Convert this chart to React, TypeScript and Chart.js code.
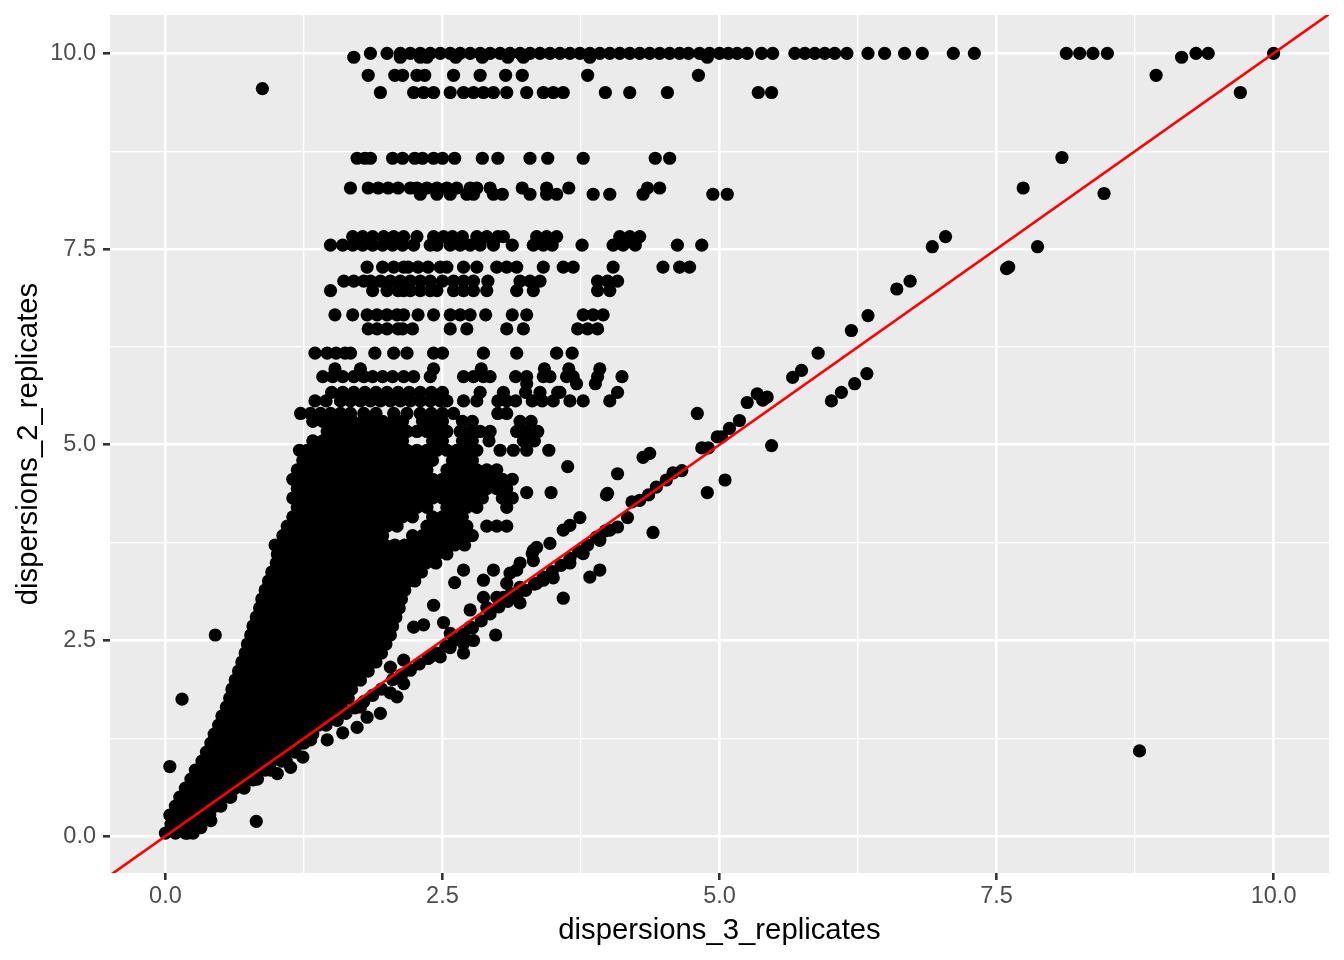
import React, { useEffect, useRef } from 'react';
import { Chart, registerables } from 'chart.js';

Chart.register(...registerables);

const X_TITLE = 'dispersions_3_replicates';
const Y_TITLE = 'dispersions_2_replicates';
const X_TICKS = [0, 1.25, 2.5, 3.75, 5, 6.25, 7.5, 8.75, 10];
const Y_TICKS = [0, 1.25, 2.5, 3.75, 5, 6.25, 7.5, 8.75, 10];
const X_LIMITS = [-0.5, 10.5];
const Y_LIMITS = [-0.47, 10.49];
const ABLINE = { slope: 1, intercept: 0 };

// Dense core of the cloud: [y, x values]
const coreRows: [number, number[]][] = [
  [0.04, [0.0, 0.09, 0.18, 0.25]],
  [0.155, [0.05, 0.14, 0.23, 0.32]],
  [0.27, [0.04, 0.13, 0.22, 0.31, 0.4]],
  [0.385, [0.09, 0.18, 0.27, 0.36, 0.45, 0.5]],
  [0.5, [0.13, 0.22, 0.31, 0.4, 0.49, 0.58]],
  [0.615, [0.18, 0.27, 0.36, 0.45, 0.54, 0.63, 0.71]],
  [0.73, [0.23, 0.32, 0.41, 0.5, 0.59, 0.68, 0.77, 0.83]],
  [0.845, [0.27, 0.36, 0.45, 0.54, 0.63, 0.72, 0.81, 0.9, 0.95]],
  [0.96, [0.33, 0.42, 0.51, 0.6, 0.69, 0.78, 0.87, 0.96, 1.05, 1.09]],
  [1.075, [0.37, 0.46, 0.55, 0.64, 0.73, 0.82, 0.91, 1.0, 1.09, 1.17]],
  [1.19, [0.41, 0.5, 0.59, 0.68, 0.77, 0.86, 0.95, 1.04, 1.13, 1.22, 1.25]],
  [1.305, [0.44, 0.53, 0.62, 0.71, 0.8, 0.89, 0.98, 1.07, 1.16, 1.25, 1.33]],
  [1.42, [0.48, 0.57, 0.66, 0.75, 0.84, 0.93, 1.02, 1.11, 1.2, 1.29, 1.38, 1.45]],
  [1.535, [0.51, 0.6, 0.69, 0.78, 0.87, 0.96, 1.05, 1.14, 1.23, 1.32, 1.41, 1.5]],
  [1.65, [0.55, 0.64, 0.73, 0.82, 0.91, 1.0, 1.09, 1.18, 1.27, 1.36, 1.45, 1.54, 1.59]],
  [1.765, [0.58, 0.67, 0.76, 0.85, 0.94, 1.03, 1.12, 1.21, 1.3, 1.39, 1.48, 1.57, 1.65]],
  [1.88, [0.6, 0.69, 0.78, 0.87, 0.96, 1.05, 1.14, 1.23, 1.32, 1.41, 1.5, 1.59, 1.68]],
  [1.995, [0.63, 0.72, 0.81, 0.9, 0.99, 1.08, 1.17, 1.26, 1.35, 1.44, 1.53, 1.62, 1.71, 1.76]],
  [2.11, [0.66, 0.75, 0.84, 0.93, 1.02, 1.11, 1.2, 1.29, 1.38, 1.47, 1.56, 1.65, 1.74, 1.83]],
  [2.225, [0.69, 0.78, 0.87, 0.96, 1.05, 1.14, 1.23, 1.32, 1.41, 1.5, 1.59, 1.68, 1.77, 1.86, 1.9]],
  [2.34, [0.72, 0.81, 0.9, 0.99, 1.08, 1.17, 1.26, 1.35, 1.44, 1.53, 1.62, 1.71, 1.8, 1.89, 1.95]],
  [2.455, [0.74, 0.83, 0.92, 1.01, 1.1, 1.19, 1.28, 1.37, 1.46, 1.55, 1.64, 1.73, 1.82, 1.91, 1.99]],
  [2.57, [0.77, 0.86, 0.95, 1.04, 1.13, 1.22, 1.31, 1.4, 1.49, 1.58, 1.67, 1.76, 1.85, 1.94, 2.03]],
  [2.685, [0.79, 0.88, 0.97, 1.06, 1.15, 1.24, 1.33, 1.42, 1.51, 1.6, 1.69, 1.78, 1.87, 1.96, 2.05]],
  [2.8, [0.82, 0.91, 1.0, 1.09, 1.18, 1.27, 1.36, 1.45, 1.54, 1.63, 1.72, 1.81, 1.9, 1.99, 2.08]],
  [2.915, [0.85, 0.94, 1.03, 1.12, 1.21, 1.3, 1.39, 1.48, 1.57, 1.66, 1.75, 1.84, 1.93, 2.02, 2.11]],
  [3.03, [0.87, 0.96, 1.05, 1.14, 1.23, 1.32, 1.41, 1.5, 1.59, 1.68, 1.77, 1.86, 1.95, 2.04, 2.13]],
  [3.145, [0.9, 0.99, 1.08, 1.17, 1.26, 1.35, 1.44, 1.53, 1.62, 1.71, 1.8, 1.89, 1.98, 2.07, 2.16]],
  [3.26, [0.93, 1.02, 1.11, 1.2, 1.29, 1.38, 1.47, 1.56, 1.65, 1.74, 1.83, 1.92, 2.01, 2.1, 2.19, 2.25]],
  [3.375, [0.96, 1.05, 1.14, 1.23, 1.32, 1.41, 1.5, 1.59, 1.68, 1.77, 1.86, 1.95, 2.04, 2.13, 2.22, 2.31]],
  [3.49, [1.0, 1.09, 1.18, 1.27, 1.36, 1.45, 1.54, 1.63, 1.72, 1.81, 1.9, 1.99, 2.08, 2.17, 2.26, 2.35, 2.44]],
  [3.605, [1.01, 1.1, 1.19, 1.28, 1.37, 1.46, 1.55, 1.64, 1.73, 1.82, 1.91, 2.0, 2.09, 2.18, 2.27, 2.36, 2.45, 2.54]],
  [3.72, [0.99, 1.08, 1.17, 1.26, 1.35, 1.44, 1.53, 1.62, 1.71, 1.8, 1.89, 1.98, 2.07, 2.16, 2.25, 2.34, 2.43, 2.52, 2.61, 2.7]],
];

// Upper, looser part of the cloud: [y, x values]
const upperRows: [number, number[]][] = [
  [3.84, [1.06, 1.15, 1.24, 1.33, 1.42, 1.51, 1.6, 1.69, 1.78, 1.87, 1.96, 2.23, 2.32, 2.41, 2.5, 2.59, 2.68, 2.77]],
  [3.96, [1.1, 1.19, 1.28, 1.37, 1.46, 1.55, 1.64, 1.73, 1.82, 1.91, 2.0, 2.09, 2.36, 2.45, 2.54, 2.63, 2.72, 2.9, 2.99, 3.08]],
  [4.08, [1.15, 1.24, 1.33, 1.42, 1.51, 1.6, 1.69, 1.78, 1.87, 1.96, 2.05, 2.14, 2.23, 2.41, 2.5, 2.59, 2.68]],
  [4.2, [1.19, 1.28, 1.37, 1.46, 1.55, 1.64, 1.73, 1.82, 1.91, 2.0, 2.09, 2.18, 2.27, 2.36, 2.54, 2.63, 2.72, 2.81, 3.08]],
  [4.32, [1.15, 1.24, 1.33, 1.42, 1.51, 1.6, 1.69, 1.78, 1.87, 1.96, 2.05, 2.14, 2.23, 2.32, 2.41, 2.5, 2.59, 2.68, 2.77, 2.86, 3.04, 3.13]],
  [4.44, [1.19, 1.28, 1.37, 1.46, 1.55, 1.64, 1.73, 1.82, 1.91, 2.0, 2.09, 2.18, 2.27, 2.36, 2.45, 2.54, 2.63, 2.72, 2.81, 2.9, 2.99, 3.08]],
  [4.56, [1.15, 1.24, 1.33, 1.42, 1.51, 1.6, 1.69, 1.78, 1.87, 1.96, 2.05, 2.14, 2.23, 2.32, 2.41, 2.5, 2.59, 2.68, 2.77, 2.86, 2.95, 3.04, 3.13]],
  [4.68, [1.19, 1.28, 1.37, 1.46, 1.55, 1.64, 1.73, 1.82, 1.91, 2.0, 2.09, 2.18, 2.27, 2.36, 2.54, 2.63, 2.72, 2.81, 2.9, 2.99]],
  [4.8, [1.24, 1.33, 1.42, 1.51, 1.6, 1.69, 1.78, 1.87, 1.96, 2.05, 2.14, 2.23, 2.32, 2.41, 2.59, 2.68, 2.77]],
  [4.93, [1.21, 1.28, 1.37, 1.46, 1.55, 1.64, 1.73, 1.82, 1.91, 2.0, 2.09, 2.18, 2.27, 2.36, 2.45, 2.54, 2.63, 2.72, 2.81, 3.02, 3.14, 3.26, 3.46]],
  [5.05, [1.33, 1.42, 1.51, 1.6, 1.69, 1.78, 1.87, 1.96, 2.05, 2.14, 2.41, 2.5, 2.68, 2.77, 2.92, 3.23, 3.33]],
  [5.17, [1.46, 1.55, 1.64, 1.73, 1.82, 1.91, 2.0, 2.09, 2.18, 2.27, 2.36, 2.45, 2.54, 2.66, 2.75, 2.84, 2.93, 3.17, 3.26, 3.36]],
  [5.3, [1.33, 1.42, 1.51, 1.6, 1.69, 1.78, 1.87, 1.96, 2.05, 2.14, 2.32, 2.41, 2.5, 2.68, 2.77, 3.2, 3.3]],
  [5.4, [1.22, 1.31, 1.4, 1.49, 1.58, 1.67, 1.79, 1.9, 2.06, 2.18, 2.3, 2.4, 2.5, 2.6, 3.0, 3.08]],
  [5.56, [1.35, 1.45, 1.58, 1.67, 1.76, 1.85, 1.94, 2.03, 2.12, 2.21, 2.3, 2.39, 2.48, 2.54, 2.69, 2.81, 3.0, 3.08, 3.16, 3.31, 3.4, 3.5, 3.65, 3.77, 4.01]],
  [5.67, [1.5, 1.6, 1.7, 1.8, 1.9, 2.0, 2.1, 2.2, 2.3, 2.4, 2.5, 2.84, 3.05, 3.25, 3.38, 3.54, 3.56, 4.08]],
  [5.78, [3.26, 3.71, 3.88]],
  [5.87, [1.42, 1.51, 1.6, 1.7, 1.79, 1.87, 1.96, 2.05, 2.15, 2.24, 2.39, 2.69, 2.78, 2.87, 2.93, 3.16, 3.26, 3.41, 3.47, 3.62, 3.68, 3.9, 4.12]],
  [5.97, [1.53, 1.76, 2.42, 2.85, 3.42, 3.64, 3.92]],
  [6.17, [1.35, 1.46, 1.54, 1.62, 1.67, 1.89, 2.06, 2.18, 2.42, 2.5, 2.87, 3.17, 3.53, 3.67]],
];

// Horizontal bands at the top: [y, x values]
const bandRows: [number, number[]][] = [
  [6.48, [1.83, 1.91, 2.0, 2.1, 2.14, 2.23, 2.57, 2.72, 3.08, 3.23, 3.72, 3.81, 3.9]],
  [6.66, [1.53, 1.69, 1.82, 1.91, 2.0, 2.09, 2.15, 2.28, 2.42, 2.57, 2.66, 2.75, 2.89, 3.13, 3.26, 3.77, 3.86, 3.95]],
  [6.97, [1.49, 1.87, 2.0, 2.1, 2.15, 2.21, 2.3, 2.39, 2.45, 2.6, 2.69, 2.78, 2.9, 3.17, 3.32, 3.9, 4.01]],
  [7.09, [1.61, 1.7, 1.79, 1.85, 1.94, 2.03, 2.12, 2.21, 2.3, 2.39, 2.5, 2.6, 2.69, 2.78, 2.91, 3.2, 3.29, 3.38, 3.9, 3.99, 4.08]],
  [7.27, [1.82, 1.96, 2.06, 2.15, 2.19, 2.28, 2.37, 2.48, 2.54, 2.69, 2.81, 2.99, 3.08, 3.17, 3.41, 3.59, 3.68, 4.04, 4.49, 4.64, 4.73]],
  [7.55, [1.49, 1.6, 1.69, 1.78, 1.87, 1.96, 2.05, 2.14, 2.24, 2.39, 2.45, 2.57, 2.66, 2.75, 2.84, 2.96, 3.13, 3.32, 3.41, 3.49, 3.76, 4.04, 4.13, 4.24, 4.62, 4.84]],
  [7.66, [1.69, 1.78, 1.87, 1.97, 2.06, 2.15, 2.27, 2.42, 2.51, 2.59, 2.68, 2.81, 2.9, 3.0, 3.05, 3.35, 3.44, 3.53, 4.1, 4.19, 4.28]],
  [8.2, [2.3, 2.45, 2.57, 2.72, 2.78, 2.96, 3.04, 3.29, 3.44, 3.53, 3.86, 4.01, 4.31, 4.94, 5.07]],
  [8.28, [1.67, 1.83, 1.92, 2.01, 2.1, 2.21, 2.27, 2.36, 2.45, 2.54, 2.63, 2.75, 2.81, 2.93, 3.22, 3.44, 3.64, 4.35, 4.46]],
  [8.66, [1.73, 1.8, 1.85, 2.05, 2.14, 2.25, 2.32, 2.42, 2.5, 2.61, 2.86, 3.0, 3.29, 3.45, 3.77, 4.42, 4.55]],
  [9.5, [1.94, 2.24, 2.33, 2.42, 2.57, 2.69, 2.78, 2.87, 2.96, 3.08, 3.26, 3.41, 3.5, 3.59, 3.97, 4.19, 4.53, 5.35, 5.47, 9.7]],
  [9.72, [1.83, 2.07, 2.14, 2.27, 2.34, 2.6, 2.84, 3.07, 3.22, 3.81, 4.81, 8.94]],
  [9.95, [1.7, 2.12, 2.3, 2.36, 2.62, 2.86, 3.09, 3.23, 3.83, 4.89, 9.17]],
  [10.0, [1.85, 2.0, 2.12, 2.21, 2.3, 2.39, 2.48, 2.57, 2.66, 2.75, 2.84, 2.93, 3.02, 3.11, 3.2, 3.29, 3.38, 3.47, 3.56, 3.65, 3.74, 3.83, 3.92, 4.01, 4.1, 4.19, 4.28, 4.37, 4.46, 4.55, 4.64, 4.72, 4.82, 4.91, 5.0, 5.08, 5.16, 5.25, 5.38, 5.48, 5.68, 5.77, 5.86, 5.95, 6.04, 6.15, 6.34, 6.49, 6.67, 6.83, 7.11, 7.3, 8.13, 8.25, 8.37, 8.5, 9.3, 9.41, 10.0]],
];

// Points hugging the diagonal: [x, y]
const diagonalPoints: [number, number][] = [
  [1.55, 1.48], [1.63, 1.57], [1.71, 1.64], [1.79, 1.72], [1.87, 1.8], [1.95, 1.88],
  [2.05, 2.0], [2.13, 2.06], [2.21, 2.12], [2.29, 2.2], [2.37, 2.27], [2.45, 2.34], [2.53, 2.43],
  [2.61, 2.51], [2.69, 2.58], [2.77, 2.66], [2.85, 2.75], [2.93, 2.84], [3.01, 2.93], [3.09, 3.0],
  [3.17, 3.07], [3.25, 3.14], [3.33, 3.22], [3.41, 3.31], [3.49, 3.38], [3.57, 3.46], [3.65, 3.55],
  [3.73, 3.64], [3.81, 3.72], [3.89, 3.82], [3.97, 3.9],
];

// Other scattered points and outliers: [x, y]
const scatterPoints: [number, number][] = [
  [0.2, 0.04], [0.32, 0.11], [0.41, 0.2], [0.59, 0.5], [0.79, 0.72], [1.01, 0.8], [1.13, 0.88], [1.24, 1.01],
  [1.46, 1.23], [1.31, 1.23], [1.6, 1.32], [1.73, 1.39], [1.82, 1.52], [1.94, 1.57], [2.09, 1.78], [1.76, 1.65],
  [2.03, 1.83], [2.15, 1.95], [2.03, 2.16], [2.15, 2.25], [2.39, 2.29], [2.48, 2.29], [2.69, 2.34], [2.57, 2.41],
  [2.69, 2.46], [2.78, 2.5], [2.98, 2.57], [2.57, 2.59], [2.75, 2.67], [2.24, 2.67], [2.33, 2.7], [2.51, 2.73],
  [2.75, 2.89], [2.9, 2.92], [2.42, 2.95], [2.99, 3.05], [2.87, 3.05], [2.61, 3.24], [2.87, 3.27], [2.96, 3.4],
  [2.69, 3.4], [3.05, 3.05], [3.12, 3.1], [3.2, 3.18], [3.2, 2.98], [3.08, 3.23], [3.35, 3.23], [3.41, 3.27],
  [3.5, 3.3], [3.17, 3.4], [3.11, 3.36], [3.59, 3.04], [3.32, 3.52], [3.2, 3.49], [3.65, 3.49], [3.32, 3.65],
  [3.31, 3.61], [3.77, 3.61], [3.35, 3.69], [3.47, 3.74], [3.92, 3.4], [3.83, 3.31], [3.92, 3.78], [4.01, 3.91],
  [4.08, 3.95], [3.59, 3.91], [3.65, 3.97], [3.74, 4.07], [4.17, 4.07], [4.21, 4.27], [4.28, 4.29], [4.36, 4.36],
  [4.4, 3.88], [4.43, 4.46], [4.52, 4.55], [4.58, 4.64], [4.66, 4.67], [4.84, 4.96], [4.9, 4.96], [4.98, 5.1],
  [5.02, 5.1], [5.09, 5.21], [5.18, 5.31], [5.25, 5.54], [5.34, 5.65], [5.39, 5.57], [5.43, 5.61], [5.66, 5.86],
  [5.74, 5.95], [5.89, 6.17], [4.8, 5.4], [4.89, 4.39], [5.05, 4.55], [5.47, 4.99], [6.01, 5.56], [6.1, 5.67],
  [6.22, 5.78], [6.33, 5.91], [6.19, 6.46], [6.34, 6.65], [6.6, 6.99], [6.72, 7.09], [6.92, 7.53], [7.04, 7.66],
  [7.59, 7.25], [7.61, 7.27], [7.74, 8.28], [7.87, 7.53], [8.09, 8.67], [8.47, 8.21], [3.98, 4.36], [4.08, 4.63],
  [4.31, 4.84], [4.37, 4.89], [3.63, 4.72], [3.26, 4.39], [3.48, 4.39], [3.99, 4.38],
  [0.45, 2.57], [0.15, 1.75], [0.04, 0.89], [0.82, 0.19], [8.79, 1.09], [0.875, 9.55],
];

const FONT = "'Liberation Sans', Arial, Helvetica, sans-serif";

function isMajor(v: number) {
  return Math.abs(v / 2.5 - Math.round(v / 2.5)) < 1e-6;
}

export default function App() {
  const canvasRef = useRef<HTMLCanvasElement>(null);

  useEffect(() => {
    const canvas = canvasRef.current;
    if (!canvas) return;

    const points: { x: number; y: number }[] = [];
    for (const rows of [coreRows, upperRows, bandRows]) {
      for (const [y, xs] of rows) for (const x of xs) points.push({ x, y });
    }
    for (const [x, y] of diagonalPoints) points.push({ x, y });
    for (const [x, y] of scatterPoints) points.push({ x, y });

    const abline = X_LIMITS.map((x) => ({ x, y: ABLINE.intercept + ABLINE.slope * x }));

    const panelBg = {
      id: 'panelBg',
      beforeDraw(chart: any) {
        const { ctx, chartArea } = chart;
        ctx.save();
        ctx.fillStyle = '#EBEBEB';
        ctx.fillRect(chartArea.left, chartArea.top, chartArea.right - chartArea.left, chartArea.bottom - chartArea.top);
        ctx.restore();
      },
    };

    const makeAxis = (ticks: number[], limits: number[], title: string, isX: boolean) => ({
      type: 'linear' as const,
      min: limits[0],
      max: limits[1],
      afterBuildTicks: (scale: any) => {
        scale.ticks = ticks.map((v) => ({ value: v }));
      },
      afterFit: (scale: any) => {
        if (isX) scale.height = 87;
        else scale.width = 110;
        scale.paddingTop = 0;
        scale.paddingBottom = 0;
        scale.paddingLeft = 0;
        scale.paddingRight = 0;
      },
      border: { display: false },
      grid: {
        color: '#FFFFFF',
        lineWidth: (c: any) => (c.tick ? (isMajor(c.tick.value) ? 2.6 : 1.3) : 0),
        drawTicks: true,
        tickLength: 7,
        tickWidth: 2.6,
        tickColor: (c: any) => (c.tick && isMajor(c.tick.value) ? '#333333' : 'rgba(0,0,0,0)'),
      },
      ticks: {
        autoSkip: false,
        maxRotation: 0,
        minRotation: 0,
        color: '#4D4D4D',
        padding: isX ? 2 : 7,
        font: { family: FONT, size: 23.5 },
        callback: (v: any) => (isMajor(Number(v)) ? Number(v).toFixed(1) : ''),
      },
      title: {
        display: true,
        text: title,
        color: '#000000',
        font: { family: FONT, size: 29.3 },
        padding: isX ? { top: 0, bottom: 12 } : { top: 11, bottom: 0 },
      },
    });

    const chart = new Chart(canvas, {
      type: 'scatter',
      data: {
        datasets: [
          {
            type: 'line',
            data: abline,
            borderColor: '#FF0000',
            borderWidth: 2.6,
            pointRadius: 0,
            fill: false,
            order: 0,
          } as any,
          {
            type: 'scatter',
            data: points,
            backgroundColor: '#000000',
            borderWidth: 0,
            pointRadius: 6.6,
            pointHoverRadius: 6.6,
            order: 1,
          } as any,
        ],
      },
      options: {
        responsive: false,
        animation: false,
        events: [],
        layout: { padding: { top: 15, right: 15, left: 0, bottom: 0 } },
        plugins: { legend: { display: false }, tooltip: { enabled: false } },
        scales: {
          x: makeAxis(X_TICKS, X_LIMITS, X_TITLE, true),
          y: makeAxis(Y_TICKS, Y_LIMITS, Y_TITLE, false),
        },
      } as any,
      plugins: [panelBg],
    });

    return () => chart.destroy();
  }, []);

  return (
    <div style={{ position: 'absolute', left: 0, top: 0, width: 1344, height: 960, background: '#FFFFFF' }}>
      <canvas ref={canvasRef} width={1344} height={960} style={{ display: 'block', width: 1344, height: 960 }} />
    </div>
  );
}
